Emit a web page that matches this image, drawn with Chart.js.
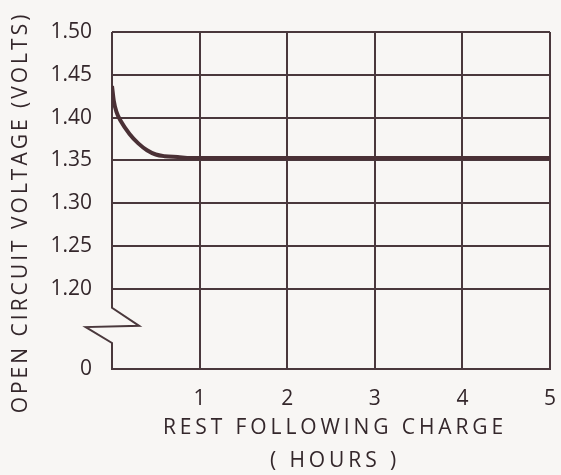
<!DOCTYPE html>
<html><head><meta charset="utf-8">
<script src="https://cdn.jsdelivr.net/npm/chart.js@4/dist/chart.umd.min.js"></script>
<style>html,body{margin:0;padding:0;background:#f8f6f4;} canvas{display:block;}</style>
</head><body>
<canvas id="c" width="561" height="475"></canvas>
<script>
// ---- data ----
const restHours = [0, 0.02, 0.05, 0.1, 0.2, 0.3, 0.4, 0.5, 0.6, 0.75, 0.9, 1, 2, 3, 4, 5];
const voltage   = [1.437, 1.420, 1.407, 1.396, 1.381, 1.370, 1.362, 1.357, 1.355, 1.354, 1.353, 1.353, 1.353, 1.353, 1.353, 1.353];
const xTickValues = [0, 1, 2, 3, 4, 5];
const yTickValues = [1.20, 1.25, 1.30, 1.35, 1.40, 1.45, 1.50];
const yZeroValue = 1.1066;            // broken-axis bottom, labelled "0"
const breakX = [0, 0, 0.31, -0.30, 0, 0];
const breakY = [1.50, 1.178, 1.157, 1.1555, 1.137, yZeroValue];

const ink = '#4a383c';
const textInk = '#34272b';
const FONT = "'Open Sans', sans-serif";

const curvePts = restHours.map((h, i) => ({x: h, y: voltage[i]}));
const breakPts = breakX.map((h, i) => ({x: h, y: breakY[i]}));

const spacedTitles = {
  id: 'spacedTitles',
  beforeDraw(chart) {
    const cfgs = {x: {sp: '3.9px', dx: 4, dy: 2}, y: {sp: '3px', dx: 0, dy: 12}};
    for (const id of ['x', 'y']) {
      const s = chart.scales[id];
      if (!s || s._spaced) continue;
      s._spaced = true;
      const orig = s.drawTitle;
      const cfg = cfgs[id];
      s.drawTitle = function () {
        const ctx = this.ctx;
        ctx.save();
        ctx.letterSpacing = cfg.sp;
        ctx.translate(cfg.dx, cfg.dy);
        orig.call(this);
        ctx.restore();
      };
    }
  }
};

new Chart(document.getElementById('c'), {
  type: 'line',
  data: {
    datasets: [
      {data: curvePts, borderColor: '#4a3035', borderWidth: 4, pointRadius: 0,
       cubicInterpolationMode: 'monotone', fill: false},
      {data: breakPts, borderColor: ink, borderWidth: 2, pointRadius: 0, tension: 0,
       clip: false, fill: false}
    ]
  },
  options: {
    responsive: false,
    animation: false,
    events: [],
    layout: {padding: {top: 32, right: 11, left: 0, bottom: 0}},
    plugins: {legend: {display: false}, tooltip: {enabled: false}},
    scales: {
      x: {
        type: 'linear', min: 0, max: 5,
        afterFit: s => { s.height = 106; s.paddingLeft = 0; s.paddingRight = 0; },
        afterBuildTicks: s => { s.ticks = xTickValues.map(v => ({value: v})); },
        ticks: {
          padding: 17, color: textInk, font: {family: FONT, size: 21},
          callback: v => v === 0 ? '' : String(v)
        },
        grid: {
          drawTicks: false, lineWidth: 2,
          color: c => (c.tick && c.tick.value === 0) ? 'rgba(0,0,0,0)' : ink
        },
        border: {display: true, color: ink, width: 2},
        title: {
          display: true, text: ['REST FOLLOWING CHARGE', '( HOURS )'],
          color: textInk, font: {family: FONT, size: 21, lineHeight: 1.55},
          padding: {top: 0, bottom: 0}
        }
      },
      y: {
        type: 'linear', min: yZeroValue, max: 1.50,
        afterFit: s => { s.width = 112; s.paddingTop = 0; s.paddingBottom = 0; },
        afterBuildTicks: s => { s.ticks = [yZeroValue].concat(yTickValues).map(v => ({value: v})); },
        ticks: {
          padding: 20, color: textInk, font: {family: FONT, size: 21},
          callback: v => Math.abs(v - yZeroValue) < 1e-6 ? '0' : Number(v).toFixed(2)
        },
        grid: {drawTicks: false, lineWidth: 2, color: ink},
        border: {display: false},
        title: {
          display: true, text: 'OPEN CIRCUIT VOLTAGE (VOLTS)',
          color: textInk, font: {family: FONT, size: 21, lineHeight: 1.2},
          padding: {top: 8, bottom: 0}
        }
      }
    }
  },
  plugins: [spacedTitles]
});
</script>
</body></html>
